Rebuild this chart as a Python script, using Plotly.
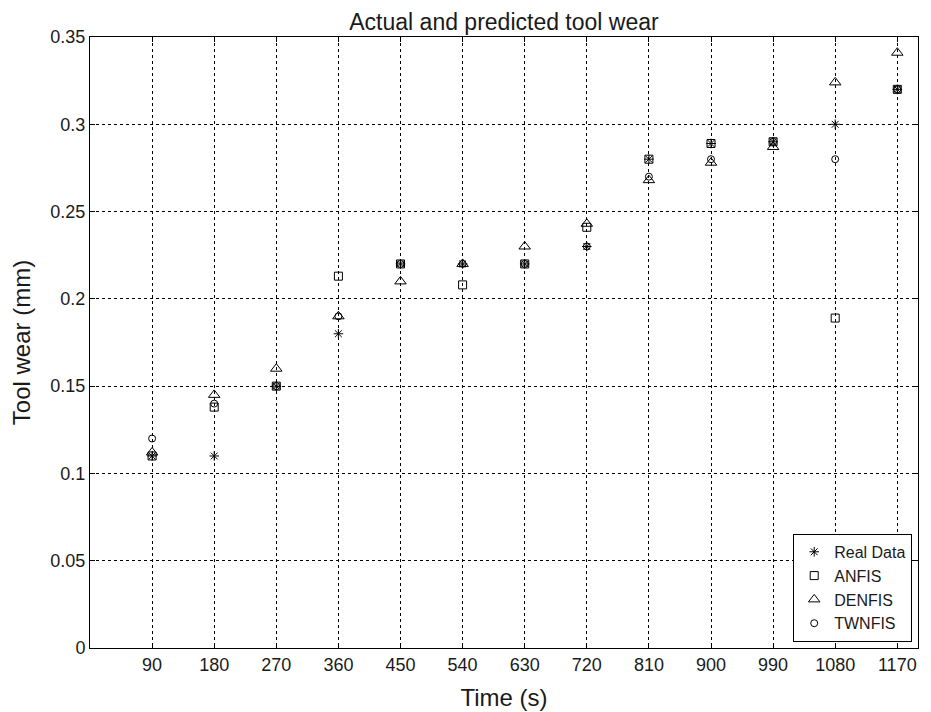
import plotly.graph_objects as go

time_s = [90, 180, 270, 360, 450, 540, 630, 720, 810, 900, 990, 1080, 1170]
real_data = [0.11, 0.11, 0.15, 0.18, 0.22, 0.22, 0.22, 0.23, 0.28, 0.289, 0.29, 0.30, 0.32]
anfis = [0.11, 0.138, 0.15, 0.213, 0.22, 0.208, 0.22, 0.241, 0.28, 0.289, 0.29, 0.189, 0.32]
denfis = [0.112, 0.145, 0.16, 0.19, 0.21, 0.22, 0.23, 0.243, 0.268, 0.278, 0.287, 0.324, 0.341]
twnfis = [0.12, 0.14, 0.15, 0.19, 0.22, 0.22, 0.22, 0.23, 0.27, 0.28, 0.29, 0.28, 0.32]
x_ticks = [90, 180, 270, 360, 450, 540, 630, 720, 810, 900, 990, 1080, 1170]
y_ticks = [0, 0.05, 0.1, 0.15, 0.2, 0.25, 0.3, 0.35]
y_tick_text = ["0", "0.05", "0.1", "0.15", "0.2", "0.25", "0.3", "0.35"]

font = "Liberation Sans, Arial, Helvetica, sans-serif"
ink = "#1a1a1a"

series = [
    ("Real Data", real_data, "asterisk-open", 8),
    ("ANFIS", anfis, "square-open", 8),
    ("DENFIS", denfis, "triangle-up-open", 10),
    ("TWNFIS", twnfis, "circle-open", 7),
]

fig = go.Figure()
for name, vals, sym, size in series:
    fig.add_trace(go.Scatter(
        x=time_s, y=vals, mode="markers", name=name,
        marker=dict(symbol=sym, size=size, color="black",
                    line=dict(color="black", width=1)),
    ))

axis_common = dict(
    showline=True, linecolor="black", linewidth=1, mirror="ticks",
    ticks="inside", ticklen=5, tickcolor="black",
    showgrid=True, gridcolor="black", gridwidth=1, griddash="3px,3px",
    zeroline=False, tickfont=dict(family=font, size=18, color=ink),
    automargin=False,
)

fig.update_xaxes(range=[0, 1200], tickvals=x_ticks, ticktext=[str(t) for t in x_ticks],
                 title=dict(text="Time (s)", font=dict(family=font, size=24, color=ink)),
                 **axis_common)
fig.update_yaxes(range=[0, 0.35], tickvals=y_ticks, ticktext=y_tick_text,
                 title=dict(text="Tool wear (mm)", font=dict(family=font, size=24, color=ink)),
                 **axis_common)

# page body has an 8px default margin, so the figure is sized to fit the window
fig.update_layout(
    width=923, height=704,
    margin=dict(l=82, r=13, t=29, b=64),
    paper_bgcolor="white", plot_bgcolor="white",
    title=dict(text="Actual and predicted tool wear", xref="paper", x=0.5, xanchor="center",
               yref="container", y=0.980, yanchor="middle",
               font=dict(family=font, size=23, color=ink)),
    showlegend=True,
    legend=dict(x=0.993, y=0.01, xanchor="right", yanchor="bottom",
                bordercolor="black", borderwidth=1, bgcolor="white",
                font=dict(family=font, size=16, color=ink),
                tracegroupgap=0),
)

fig.write_html("out.html")
